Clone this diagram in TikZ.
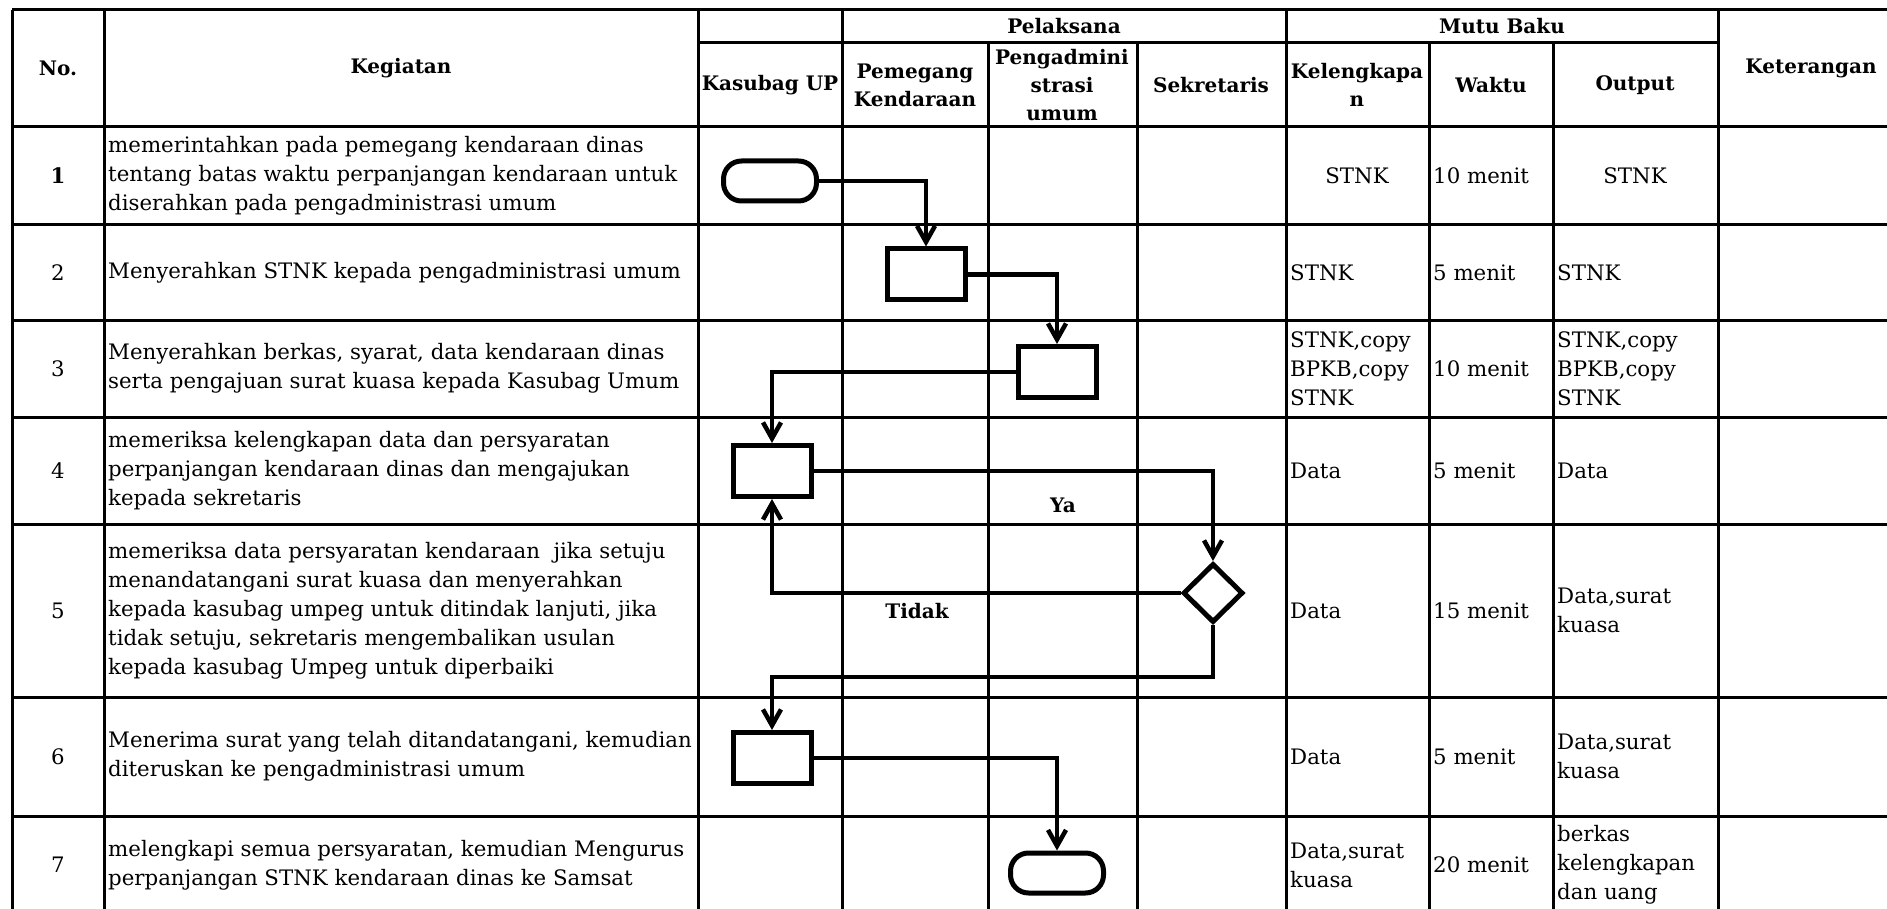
\documentclass[tikz,border=0pt]{standalone}
\usepackage{fontspec}
\setmainfont{DejaVu Serif}
\usetikzlibrary{arrows.meta,shapes.geometric}

\begin{document}
\begin{tikzpicture}[x=1pt, y=-1pt,
    >={Straight Barb[length=16pt,width=18pt]},
    grid/.style={line width=3pt},
    txt/.style={font=\fontsize{21.3}{29}\selectfont, inner sep=0pt, align=left, anchor=west},
    ctxt/.style={font=\fontsize{21.3}{29}\selectfont, inner sep=0pt, align=center},
    head/.style={font=\fontsize{20}{28}\selectfont\bfseries, inner sep=0pt, align=center},
    proc/.style={rectangle, draw, fill=white, line width=5pt, minimum width=78pt, minimum height=51pt},
    term/.style={rectangle, rounded corners=18pt, draw, fill=white, line width=5pt, minimum width=93pt, minimum height=40pt},
    decide/.style={diamond, draw, fill=white, line width=5pt, inner sep=0pt, minimum width=60pt, minimum height=59pt},
    flow/.style={->, line width=4.5pt},
]
\useasboundingbox (0,0) rectangle (1887,909);

% table
\draw[grid] (12,10) -- (1905,10);
\draw[grid] (698,43) -- (1718,43);
\draw[grid] (12,127) -- (1905,127);
\draw[grid] (12,225) -- (1905,225);
\draw[grid] (12,320) -- (1905,320);
\draw[grid] (12,417) -- (1905,417);
\draw[grid] (12,524) -- (1905,524);
\draw[grid] (12,697) -- (1905,697);
\draw[grid] (12,816) -- (1905,816);
\draw[grid] (12,914) -- (1905,914);
\draw[grid] (12,10) -- (12,914);
\draw[grid] (104,10) -- (104,914);
\draw[grid] (698,10) -- (698,914);
\draw[grid] (842,10) -- (842,914);
\draw[grid] (988,43) -- (988,914);
\draw[grid] (1137,43) -- (1137,914);
\draw[grid] (1286,10) -- (1286,914);
\draw[grid] (1429,43) -- (1429,914);
\draw[grid] (1553,43) -- (1553,914);
\draw[grid] (1718,10) -- (1718,914);

% header
\node[head] (hno) at (58,68.5) {No.};
\node[head] (hkeg) at (401,68.5) {Kegiatan};
\node[head] (hpel) at (1064,26.5) {Pelaksana};
\node[head] (hmutu) at (1502,26.5) {Mutu Baku};
\node[head] (hket) at (1811,68.5) {Keterangan};
\node[head] (hkas) at (770,85) {Kasubag UP};
\node[head] (hpem) at (915,85) {Pemegang\\Kendaraan};
\node[head] (hadm) at (1062,85) {Pengadmini\\strasi\\umum};
\node[head] (hsek) at (1211,85) {Sekretaris};
\node[head] (hkel) at (1357,85) {Kelengkapa\\n};
\node[head] (hwkt) at (1491,85) {Waktu};
\node[head] (hout) at (1635,85) {Output};

% nomor
\node[ctxt, font=\fontsize{21.3}{29}\selectfont\bfseries] (n1) at (58,176) {1};
\node[ctxt] (n2) at (58,272.5) {2};
\node[ctxt] (n3) at (58,368.5) {3};
\node[ctxt] (n4) at (58,470.5) {4};
\node[ctxt] (n5) at (58,610.5) {5};
\node[ctxt] (n6) at (58,756.5) {6};
\node[ctxt] (n7) at (58,865) {7};

% kegiatan
\node[txt] (k1) at (108,176) {memerintahkan pada pemegang kendaraan dinas\\tentang batas waktu perpanjangan kendaraan untuk\\diserahkan pada pengadministrasi umum};
\node[txt] (k2) at (108,272.5) {Menyerahkan STNK kepada pengadministrasi umum};
\node[txt] (k3) at (108,368.5) {Menyerahkan berkas, syarat, data kendaraan dinas\\serta pengajuan surat kuasa kepada Kasubag Umum};
\node[txt] (k4) at (108,470.5) {memeriksa kelengkapan data dan persyaratan\\perpanjangan kendaraan dinas dan mengajukan\\kepada sekretaris};
\node[txt] (k5) at (108,610.5) {memeriksa data persyaratan kendaraan\ \ jika setuju\\menandatangani surat kuasa dan menyerahkan\\kepada kasubag umpeg untuk ditindak lanjuti, jika\\tidak setuju, sekretaris mengembalikan usulan\\kepada kasubag Umpeg untuk diperbaiki};
\node[txt] (k6) at (108,756.5) {Menerima surat yang telah ditandatangani, kemudian\\diteruskan ke pengadministrasi umum};
\node[txt] (k7) at (108,865) {melengkapi semua persyaratan, kemudian Mengurus\\perpanjangan STNK kendaraan dinas ke Samsat};

% mutu baku
\node[ctxt] (kl1) at (1357,176) {STNK};
\node[txt] (wk1) at (1433,176) {10 menit};
\node[ctxt] (op1) at (1635,176) {STNK};
\node[txt] (kl2) at (1290,272.5) {STNK};
\node[txt] (wk2) at (1433,272.5) {5 menit};
\node[txt] (op2) at (1557,272.5) {STNK};
\node[txt] (kl3) at (1290,368.5) {STNK,copy\\BPKB,copy\\STNK};
\node[txt] (wk3) at (1433,368.5) {10 menit};
\node[txt] (op3) at (1557,368.5) {STNK,copy\\BPKB,copy\\STNK};
\node[txt] (kl4) at (1290,470.5) {Data};
\node[txt] (wk4) at (1433,470.5) {5 menit};
\node[txt] (op4) at (1557,470.5) {Data};
\node[txt] (kl5) at (1290,610.5) {Data};
\node[txt] (wk5) at (1433,610.5) {15 menit};
\node[txt] (op5) at (1557,610.5) {Data,surat\\kuasa};
\node[txt] (kl6) at (1290,756.5) {Data};
\node[txt] (wk6) at (1433,756.5) {5 menit};
\node[txt] (op6) at (1557,756.5) {Data,surat\\kuasa};
\node[txt] (kl7) at (1290,865) {Data,surat\\kuasa};
\node[txt] (wk7) at (1433,865) {20 menit};
\node[txt] (op7) at (1557,865) {berkas\\kelengkapan\\dan uang};

% alur
\node[term] (t1) at (770,181) {};
\node[proc] (b2) at (926,274.5) {};
\node[proc] (b3) at (1057,372) {};
\node[proc] (b4) at (772,471) {};
\node[decide] (d5) at (1213,593) {};
\node[proc] (b6) at (772,758) {};
\node[term] (t7) at (1057,873) {};
\coordinate (c5) at (1213,677);

\draw[flow] (t1.east) -| (b2.north);
\draw[flow] (b2.east) -| (b3.north);
\draw[flow] (b3.west) -| (b4.north);
\draw[flow] (b4.east) -| (d5.north);
\draw[flow] (d5.west) -| (b4.south);
\draw[flow] (d5.south) -- (c5) -| (b6.north);
\draw[flow] (b6.east) -| (t7.north);

\node[head] (ya) at (1063,505) {Ya};
\node[head] (tidak) at (917,611) {Tidak};
\end{tikzpicture}
\end{document}
